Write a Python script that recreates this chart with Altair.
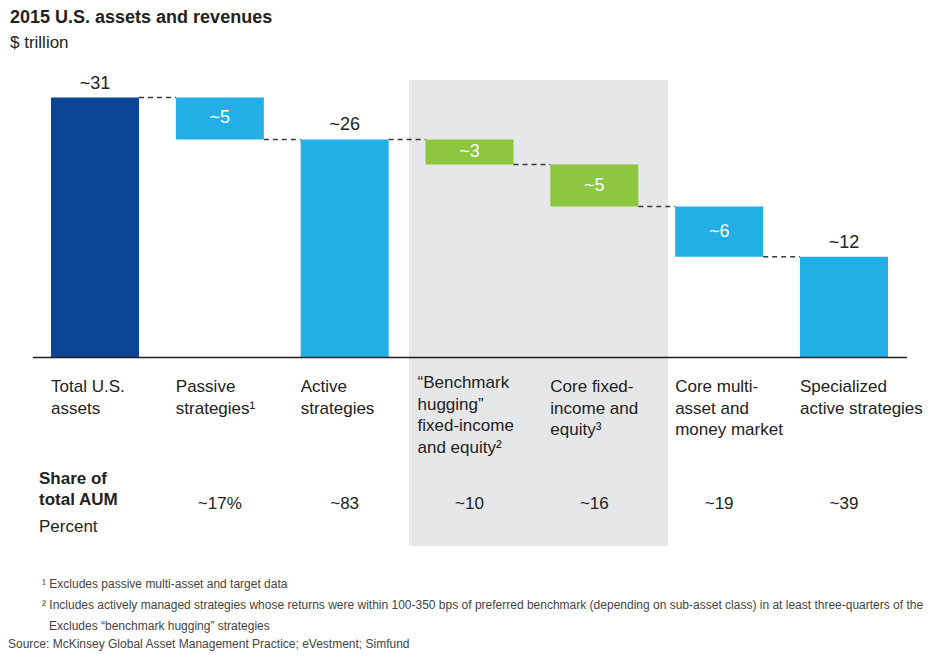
import altair as alt
import pandas as pd

# ---------------- data ----------------
categories = [
    "Total U.S.\nassets",
    "Passive\nstrategies¹",
    "Active\nstrategies",
    "“Benchmark\n\u00a0\u00a0hugging”\n\u00a0\u00a0fixed-income\n\u00a0\u00a0and equity²",
    "Core fixed-\nincome and\nequity³",
    "Core multi-\nasset and\nmoney market",
    "Specialized\nactive strategies",
]
kinds = ["total", "delta", "total", "delta", "delta", "delta", "total"]
values = [31, 5, 26, 3, 5, 6, 12]
value_labels = ["~31", "~5", "~26", "~3", "~5", "~6", "~12"]
share_labels = ["", "~17%", "~83", "~10", "~16", "~19", "~39"]
bar_colors = ["#0B4593", "#21AFE6", "#21AFE6", "#8DC63F", "#8DC63F", "#21AFE6", "#21AFE6"]

title_text = "2015 U.S. assets and revenues"
subtitle_text = "$ trillion"
share_title = ["Share of", "total AUM"]
share_unit = "Percent"
footnotes = [
    "¹ Excludes passive multi-asset and target data",
    "² Includes actively managed strategies whose returns were within 100-350 bps of preferred benchmark (depending on sub-asset class) in at least three-quarters of the past 10 years",
    "Excludes “benchmark hugging” strategies",
]
source_text = "Source: McKinsey Global Asset Management Practice; eVestment; Simfund"

# ---------------- layout constants ----------------
W, H = 918, 643
PX_PER_X = 124.83
PX_PER_Y = 8.387
X0_PX, Y0_PX = 87, 349.5
XMIN, XMAX = -X0_PX / PX_PER_X, (W - X0_PX) / PX_PER_X
YMIN, YMAX = (Y0_PX - H) / PX_PER_Y, Y0_PX / PX_PER_Y
HALF = 0.3525
FONT = "Liberation Sans, Arial, sans-serif"
TXT = "#222222"
CAT_SIZE = 17

# ---------------- build tables ----------------
rows = []
level = 0
for i, (cat, k, v, vl, sl, col) in enumerate(
    zip(categories, kinds, values, value_labels, share_labels, bar_colors)
):
    if k == "total":
        y0, y1 = 0, v
        level = v
    else:
        y0, y1 = level - v, level
        level = level - v
    rows.append(dict(i=i, cat=cat, kind=k, y0=y0, y1=y1, ymid=(y0 + y1) / 2,
                     x0=i - HALF, x1=i + HALF, xc=i, vlabel=vl, share=sl,
                     color=col, level=level))
df = pd.DataFrame(rows)

conn = pd.DataFrame([
    dict(x0=rows[j]["x1"], x1=rows[j + 1]["x0"], y=rows[j]["level"])
    for j in range(len(rows) - 1)
])

xs = alt.Scale(domain=[XMIN, XMAX], nice=False, zero=False)
ys = alt.Scale(domain=[YMIN, YMAX], nice=False, zero=False)

base = alt.Chart(df)

band = alt.Chart(pd.DataFrame([dict(x0=2.515, x1=4.59, y0=-22.48, y1=33.09)])).mark_rect(
    color="#E6E7E8"
).encode(
    x=alt.X("x0:Q", scale=xs, axis=None), x2="x1:Q",
    y=alt.Y("y0:Q", scale=ys, axis=None), y2="y1:Q",
)

bars = base.mark_rect().encode(
    x=alt.X("x0:Q", scale=xs, axis=None), x2="x1:Q",
    y=alt.Y("y0:Q", scale=ys, axis=None), y2="y1:Q",
    color=alt.Color("color:N", scale=None),
)

connectors = alt.Chart(conn).mark_rule(
    strokeDash=[5, 4], color="#3A3A3A", strokeWidth=1.5
).encode(
    x=alt.X("x0:Q", scale=xs, axis=None), x2="x1:Q",
    y=alt.Y("y:Q", scale=ys, axis=None),
)

baseline = alt.Chart(pd.DataFrame([dict(x0=-0.497, x1=6.505, y=0)])).mark_rule(
    color="#231F20", strokeWidth=1.6
).encode(
    x=alt.X("x0:Q", scale=xs, axis=None), x2="x1:Q",
    y=alt.Y("y:Q", scale=ys, axis=None),
)

total_labels = base.transform_filter("datum.kind == 'total'").mark_text(
    font=FONT, fontSize=18, color=TXT, align="center", baseline="alphabetic", dy=-9
).encode(
    x=alt.X("xc:Q", scale=xs, axis=None),
    y=alt.Y("y1:Q", scale=ys, axis=None),
    text="vlabel:N",
)

delta_labels = base.transform_filter("datum.kind == 'delta'").mark_text(
    font=FONT, fontSize=18, color="white", align="center", baseline="middle"
).encode(
    x=alt.X("xc:Q", scale=xs, axis=None),
    y=alt.Y("ymid:Q", scale=ys, axis=None),
    text="vlabel:N",
)

cat_labels = base.transform_filter("datum.i != 3").mark_text(
    font=FONT, fontSize=CAT_SIZE, color=TXT, align="left", baseline="top",
    lineBreak="\n", lineHeight=21.5
).encode(
    x=alt.X("x0:Q", scale=xs, axis=None),
    y=alt.value(371),
    text="cat:N",
)

cat_label_hang = base.transform_filter("datum.i == 3").mark_text(
    font=FONT, fontSize=CAT_SIZE, color=TXT, align="left", baseline="top",
    lineBreak="\n", lineHeight=21.5, dx=-8
).encode(
    x=alt.X("x0:Q", scale=xs, axis=None),
    y=alt.value(367),
    text="cat:N",
)

share_vals = base.mark_text(
    font=FONT, fontSize=CAT_SIZE, color=TXT, align="center", baseline="middle"
).encode(
    x=alt.X("xc:Q", scale=xs, axis=None),
    y=alt.value(496),
    text="share:N",
)


def note(text, x, y, size, weight="normal", color=TXT, baseline="middle"):
    return alt.Chart(pd.DataFrame({"t": [text]})).mark_text(
        font=FONT, fontSize=size, fontWeight=weight, color=color,
        align="left", baseline=baseline
    ).encode(x=alt.value(x), y=alt.value(y), text="t:N")


annotations = [
    note(title_text, 2, 15, 18, "bold", baseline="alphabetic"),
    note(subtitle_text, 2, 35, 17),
    note(share_title[0], 31, 471, 17, "bold"),
    note(share_title[1], 31, 492, 17, "bold"),
    note(share_unit, 31, 519, 17),
    note(footnotes[0], 34, 576, 12, color="#444444"),
    note(footnotes[1], 34, 597, 12, color="#444444"),
    note(footnotes[2], 41, 618, 12, color="#444444"),
    note(source_text, 0, 636, 12, color="#444444"),
]

chart = alt.layer(
    band, bars, connectors, baseline, total_labels, delta_labels,
    cat_labels, cat_label_hang, share_vals, *annotations
).properties(
    width=W, height=H, padding=0,
    autosize=alt.AutoSizeParams(type="none"),
).configure_view(stroke=None)

chart.save("out.html", embed_options={"renderer": "svg", "actions": False})
